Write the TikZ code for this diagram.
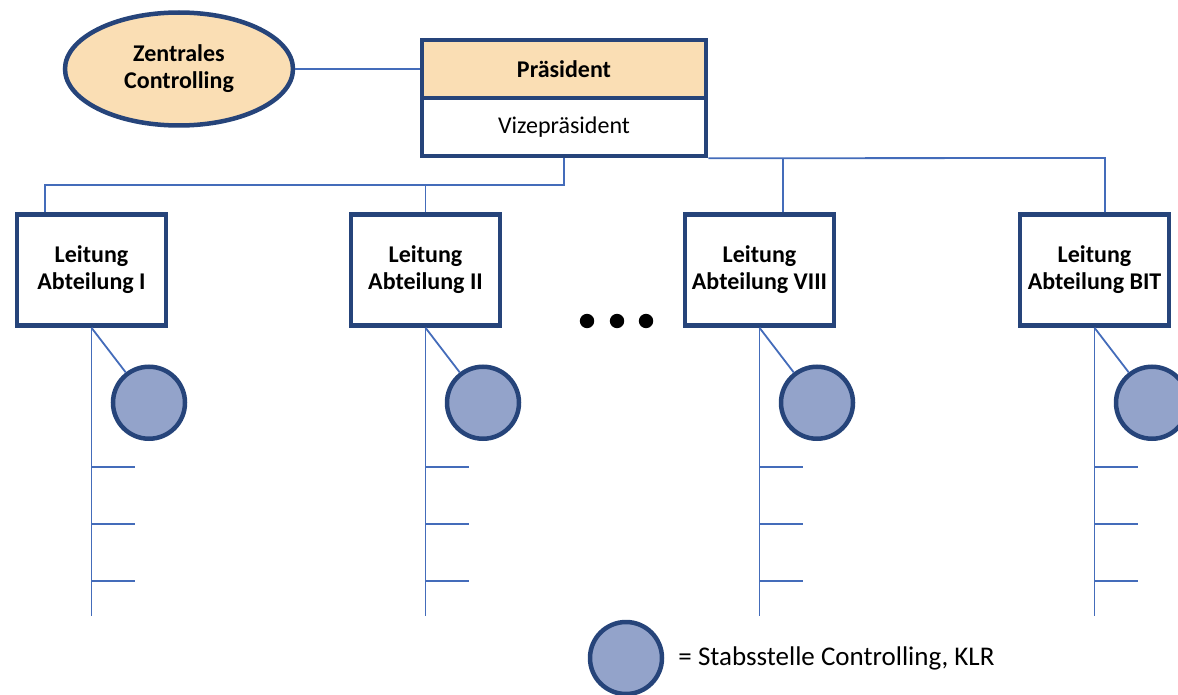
\documentclass[tikz,border=0pt]{standalone}
\usepackage{fontspec}
\setmainfont{Carlito}
\usetikzlibrary{calc,positioning,shapes.geometric}
\definecolor{frameB}{RGB}{38,68,122}
\definecolor{lineB}{RGB}{68,108,186}
\definecolor{headO}{RGB}{250,222,180}
\definecolor{staffB}{RGB}{147,163,202}

\begin{document}
\begin{tikzpicture}[x=1pt, y=-1pt, font=\fontsize{24}{27}\selectfont,
  unit/.style={draw=frameB, line width=4.5pt, fill=white, align=center,
    minimum width=149pt, minimum height=111pt, inner sep=0pt, font=\fontsize{24}{27}\selectfont\bfseries},
  staff/.style={circle, draw=frameB, line width=4.5pt, fill=staffB, minimum size=72pt, inner sep=0pt},
  link/.style={draw=lineB, line width=1.8pt}]
  \useasboundingbox (0,0) rectangle (1178,695);
  \clip (0,0) rectangle (1178,695);
  % top: president with vice and the central controlling beside it
  \node[unit, fill=headO, minimum width=284pt, minimum height=58pt] (pres) at (564,69) {Präsident};
  \node[unit, minimum width=284pt, minimum height=58pt, font=\fontsize{24}{27}\selectfont] (vice) at (564,127) {Vizepräsident};
  \node[ellipse, draw=frameB, line width=4.5pt, fill=headO, minimum width=228pt, minimum height=113pt,
    align=center, font=\fontsize{24}{27}\selectfont\bfseries] (zc) at (179,69) {Zentrales\\Controlling};
  \draw[link] (zc.east) -- (pres.west);
  % department heads
  \foreach \i/\x/\txt in {1/91.5/I, 2/425.5/II, 3/759.5/VIII, 4/1094.5/BIT}
    \node[unit] (dept\i) at (\x,270) {Leitung\\Abteilung \txt};
  % bus lines from the top box
  \coordinate (busL) at (45,185);
  \coordinate (busR) at (1105,158);
  \coordinate (tapR) at (783,158);
  \draw[link] (vice.south) |- (busL) -- (busL |- dept1.north);
  \draw[link] (dept2.north) -- (dept2.north |- busL);
  \draw[link] (vice.south east) -- (busR) -- (busR |- dept4.north);
  \draw[link] (tapR) -- (tapR |- dept3.north);
  % each department: spine, staff circle, sub units
  \foreach \i in {1,...,4} {
    \coordinate (spine\i) at ($(dept\i.south)+(0,288)$);
    \node[staff] (staff\i) at ($(dept\i.south)+(57.5,75)$) {};
    \draw[link] (dept\i.south) -- (spine\i);
    \draw[link] (dept\i.south) -- (staff\i);
    \foreach \y in {467,524,581}
      \draw[link] (dept\i.south |- 0,\y) -- ++(43,0);
  }
  % dots between II and VIII
  \foreach \x in {587,617,646}
    \fill (\x,321) circle (7.2);
  % legend
  \node[staff] (legend) at (626,658) {};
  \node[right=14pt of legend, inner sep=0pt, font=\fontsize{27}{30}\selectfont] (legtxt) {= Stabsstelle Controlling, KLR};
\end{tikzpicture}
\end{document}
